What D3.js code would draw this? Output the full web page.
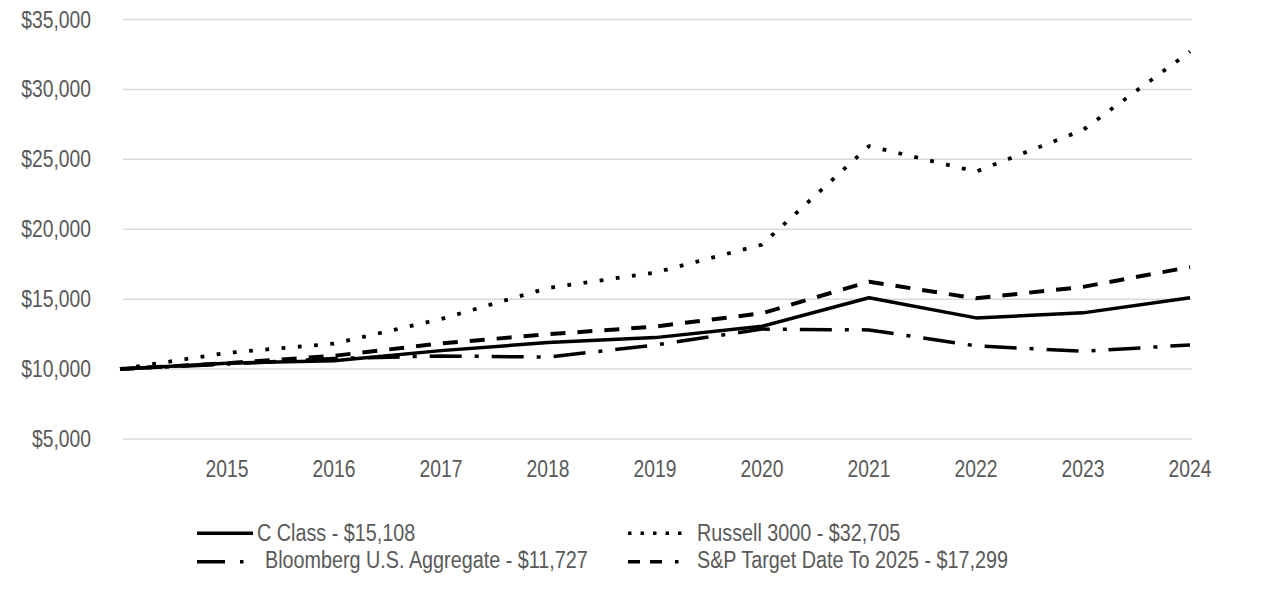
<!DOCTYPE html>
<html><head><meta charset="utf-8">
<script src="https://cdn.jsdelivr.net/npm/d3@7"></script>
<style>
html,body{margin:0;padding:0;background:#fff;}
svg text{font-family:"Liberation Sans",Arial,sans-serif;fill:#595959;}
</style></head>
<body><svg id="c" width="1286" height="594"></svg>
<script>
const years = [2014,2015,2016,2017,2018,2019,2020,2021,2022,2023,2024];
const xTickLabels = ["2015","2016","2017","2018","2019","2020","2021","2022","2023","2024"];
const yTicks = [5000,10000,15000,20000,25000,30000,35000];
const cClass = [10000,10420,10600,11320,11900,12250,13060,15100,13660,14020,15108];
const russell = [10000,11160,11820,13580,15800,16900,18900,25950,24120,27100,32705];
const bloomberg = [10000,10360,10760,10940,10860,11720,12860,12800,11660,11270,11727];
const sp = [10000,10420,10950,11840,12490,13040,13990,16250,15060,15880,17299];
const seriesNames = ["C Class - $15,108","Russell 3000 - $32,705","Bloomberg U.S. Aggregate - $11,727","S&P Target Date To 2025 - $17,299"];

const svg = d3.select("#c");
const x = d3.scaleLinear().domain([2014,2024]).range([120,1190]);
const y = d3.scaleLinear().domain([5000,35000]).range([439,19.5]);
const fmt = d => "$" + d3.format(",")(d);
const SX = 0.84;

// gridlines
svg.append("g").selectAll("line").data(yTicks).join("line")
  .attr("x1", x(2014)+3).attr("x2", x(2024)+2)
  .attr("y1", d=>y(d)).attr("y2", d=>y(d))
  .attr("stroke","#d9d9d9").attr("stroke-width",1.5);

// y labels
svg.append("g").selectAll("text").data(yTicks).join("text")
  .attr("transform", d=>`translate(91,${y(d)+8}) scale(${SX},1)`)
  .attr("text-anchor","end").attr("font-size",23).text(fmt);

// x labels
svg.append("g").selectAll("text").data(xTickLabels).join("text")
  .attr("transform", d=>`translate(${x(+d)},${477}) scale(${SX},1)`)
  .attr("text-anchor","middle").attr("font-size",23).text(d=>d);

const line = d3.line().x((d,i)=>x(years[i])).y(d=>y(d));
const styles = [
  {data:cClass, dash:null, w:3.5},
  {data:bloomberg, dash:"32 13 4 13", w:3.5},
  {data:sp, dash:"15 12", w:4},
  {data:russell, dash:"3.8 12.5", w:3.8}
];
styles.forEach(s=>{
  svg.append("path").datum(s.data).attr("d",line)
    .attr("fill","none").attr("stroke","#000").attr("stroke-width",s.w)
    .attr("stroke-dasharray",s.dash).attr("stroke-linejoin","round");
});

// legend
const leg = [
  {name:seriesNames[0], x1:197, x2:253, ly:533.3, tx:257, ty:541, dash:null},
  {name:seriesNames[1], x1:628, x2:682, ly:533.3, tx:697, ty:541, dash:"3.5 9"},
  {name:seriesNames[2], x1:197, x2:245, ly:561.7, tx:265, ty:568, dash:"28 15 3.5 40"},
  {name:seriesNames[3], x1:628, x2:690, ly:561.7, tx:697, ty:568, dash:"12 10 12 13 3.5 20"}
];
const lg = svg.append("g");
leg.forEach(l=>{
  lg.append("line").attr("x1",l.x1).attr("x2",l.x2).attr("y1",l.ly).attr("y2",l.ly)
    .attr("stroke","#000").attr("stroke-width",3.5).attr("stroke-dasharray",l.dash);
  lg.append("text").attr("transform",`translate(${l.tx},${l.ty}) scale(0.86,1)`)
    .attr("font-size",23).text(l.name);
});
</script></body></html>
